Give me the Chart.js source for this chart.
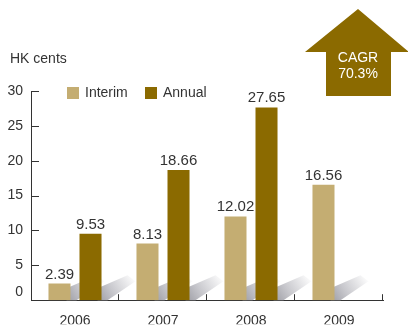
<!DOCTYPE html>
<html>
<head>
<meta charset="utf-8">
<script src="https://cdn.jsdelivr.net/npm/chart.js@4.4.1/dist/chart.umd.min.js"></script>
<style>
  html,body{margin:0;padding:0;background:#fff;}
  #wrap{width:408px;height:325px;position:relative;}
</style>
</head>
<body>
<div id="wrap"><canvas id="dps"></canvas></div>
<script>
// 中期・年度の1株当たり配当（HK cents）
const years   = ['2006','2007','2008','2009'];
const interim = [2.39, 8.13, 12.02, 16.56];
const annual  = [9.53, 18.66, 27.65, null];
const seriesNames = ['Interim','Annual'];
const unitLabel = 'HK cents';
const cagrLines = ['CAGR','70.3%'];

const C_INTERIM = '#c4ad72';
const C_ANNUAL  = '#8b6a00';
const C_TEXT    = '#333333';
const C_AXIS    = '#333333';
const FONT = '"Liberation Sans", Arial, sans-serif';

// 棒の右下から伸びる斜めの影（棒より先に描く）
const shadowPlugin = {
  id:'barShadow',
  beforeDatasetsDraw(chart){
    const ctx = chart.ctx;
    ctx.save();
    chart.data.datasets.forEach((ds,di)=>{
      chart.getDatasetMeta(di).data.forEach((bar,i)=>{
        if(ds.data[i]==null) return;
        const xr = bar.x + bar.width/2, b = bar.base;
        const g = ctx.createLinearGradient(xr, b, xr+34, b-22);
        g.addColorStop(0,'rgba(165,165,172,1)');
        g.addColorStop(0.35,'rgba(200,200,205,1)');
        g.addColorStop(1,'rgba(255,255,255,1)');
        ctx.fillStyle = g;
        ctx.beginPath();
        ctx.moveTo(xr-4, b-12);
        ctx.lineTo(xr+26, b-25);
        ctx.lineTo(xr+34, b-19);
        ctx.lineTo(xr+6, b);
        ctx.lineTo(xr-4, b);
        ctx.closePath();
        ctx.fill();
      });
    });
    ctx.restore();
  }
};

// 単位ラベル・軸の内向き目盛り・値ラベル・凡例・CAGR 矢印
const decoPlugin = {
  id:'deco',
  afterDatasetsDraw(chart){
    const ctx = chart.ctx;
    const {left,right,bottom} = chart.chartArea;
    const ys = chart.scales.y;
    ctx.save();
    ctx.fillStyle = C_TEXT;
    ctx.font = '14px '+FONT;
    ctx.textAlign = 'left';
    ctx.textBaseline = 'middle';
    ctx.fillText(unitLabel, 10, 59);

    ctx.strokeStyle = C_AXIS;
    ctx.lineWidth = 1;
    // y 軸目盛り（右向き）
    ys.ticks.forEach(t=>{
      const y = Math.round(ys.getPixelForValue(t.value))+0.5;
      ctx.beginPath(); ctx.moveTo(left, y); ctx.lineTo(left+8, y); ctx.stroke();
    });
    // x 軸目盛り（カテゴリ境界、上向き）
    const n = years.length, w = (right-left)/n;
    for(let i=1;i<=n;i++){
      const x = Math.round(left + w*i)-0.5;
      ctx.beginPath(); ctx.moveTo(x, bottom); ctx.lineTo(x, bottom-6); ctx.stroke();
    }
    // 値ラベル
    ctx.font = '15px '+FONT;
    ctx.textAlign = 'center';
    ctx.textBaseline = 'alphabetic';
    chart.data.datasets.forEach((ds,di)=>{
      chart.getDatasetMeta(di).data.forEach((bar,i)=>{
        const v = ds.data[i];
        if(v==null) return;
        ctx.fillText(v.toFixed(2), bar.x, bar.y-5);
      });
    });
    // 凡例
    ctx.font = '14px '+FONT;
    ctx.textAlign = 'left';
    ctx.textBaseline = 'middle';
    const lg = [[67, C_INTERIM],[145, C_ANNUAL]];
    lg.forEach(([x,c],k)=>{
      ctx.fillStyle = c;
      ctx.fillRect(x, 87, 12, 12);
      ctx.fillStyle = C_TEXT;
      ctx.fillText(seriesNames[k], x+18, 93.5);
    });
    // CAGR 矢印
    ctx.fillStyle = C_ANNUAL;
    ctx.beginPath();
    ctx.moveTo(358, 9);
    ctx.lineTo(409, 52);
    ctx.lineTo(391, 52);
    ctx.lineTo(391, 96);
    ctx.lineTo(326, 96);
    ctx.lineTo(326, 52);
    ctx.lineTo(305, 52);
    ctx.closePath();
    ctx.fill();
    ctx.fillStyle = '#ffffff';
    ctx.textAlign = 'center';
    ctx.fillText(cagrLines[0], 358, 58);
    ctx.fillText(cagrLines[1], 358, 74);
    ctx.restore();
  }
};

new Chart(document.getElementById('dps'), {
  type:'bar',
  data:{
    labels: years,
    datasets:[
      {label:seriesNames[0], data:interim, backgroundColor:C_INTERIM,
       categoryPercentage:0.705, barPercentage:0.71},
      {label:seriesNames[1], data:annual, backgroundColor:C_ANNUAL,
       categoryPercentage:0.705, barPercentage:0.71},
    ]
  },
  options:{
    responsive:true, maintainAspectRatio:false, animation:false,
    layout:{padding:{left:0, right:25, top:91, bottom:0}},
    plugins:{
      legend:{display:false},
      tooltip:{enabled:false},
    },
    scales:{
      y:{
        min:0, max:30,
        ticks:{stepSize:5, color:C_TEXT, padding:8, font:{family:FONT, size:14},
               callback:v=> v===0 ? ['0',''] : String(v)},
        grid:{display:false, drawTicks:false},
        border:{display:true, color:C_AXIS, width:1},
        afterFit:s=>{ s.width = 31; }
      },
      x:{
        ticks:{color:C_TEXT, padding:13, font:{family:FONT, size:14}},
        grid:{display:false, drawTicks:false},
        border:{display:true, color:C_AXIS, width:1},
        afterFit:s=>{ s.height = 24; }
      }
    }
  },
  plugins:[shadowPlugin, decoPlugin]
});
</script>
</body>
</html>
